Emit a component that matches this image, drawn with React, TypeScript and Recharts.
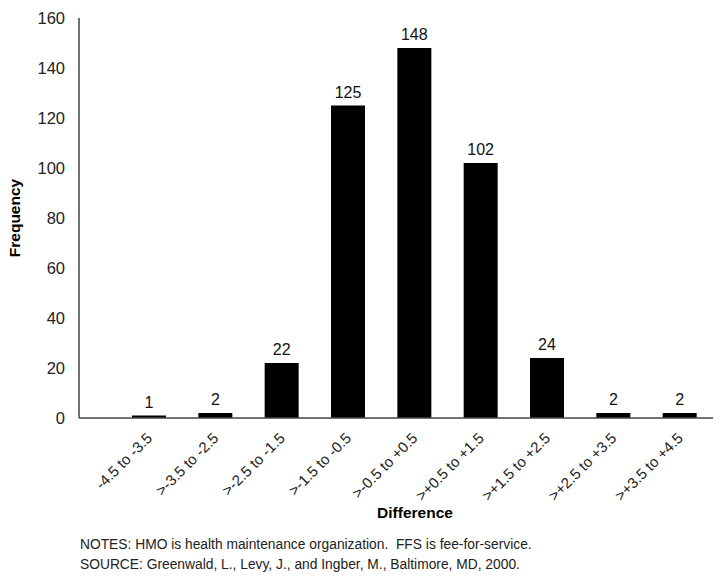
import { Bar, BarChart, LabelList, XAxis, YAxis } from "recharts";

const categories = [
  "-4.5 to -3.5",
  ">-3.5 to -2.5",
  ">-2.5 to -1.5",
  ">-1.5 to -0.5",
  ">-0.5 to +0.5",
  ">+0.5 to +1.5",
  ">+1.5 to +2.5",
  ">+2.5 to +3.5",
  ">+3.5 to +4.5",
];
const frequency = [1, 2, 22, 125, 148, 102, 24, 2, 2];
const yTicks = [0, 20, 40, 60, 80, 100, 120, 140, 160];

const data = categories.map((c, i) => ({ name: c, value: frequency[i] }));

const FONT = '"Liberation Sans", Arial, Helvetica, sans-serif';

function XTick(props: any) {
  const { x, y, payload } = props;
  return (
    <g transform={`translate(${x + 4},${y + 21}) rotate(-45)`}>
      <text textAnchor="end" fontSize={15} fill="#222" fontFamily={FONT}>
        {payload.value}
      </text>
    </g>
  );
}

export default function App() {
  return (
    <div
      style={{
        position: "absolute",
        top: 0,
        left: 0,
        width: 728,
        height: 580,
        background: "#fff",
        fontFamily: FONT,
      }}
    >
      <BarChart
        width={728}
        height={530}
        data={data}
        margin={{ top: 18, right: 15, left: 5, bottom: 0 }}
        barSize={34}
      >
        <XAxis
          dataKey="name"
          interval={0}
          tickLine={false}
          tickSize={0}
          tickMargin={0}
          height={112}
          padding={{ left: 37, right: 0 }}
          axisLine={{ stroke: "#444", strokeWidth: 1.5 }}
          tick={<XTick />}
          label={{
            value: "Difference",
            position: "insideBottom",
            offset: 12,
            dx: 19,
            fontSize: 15.5,
            fontWeight: 700,
            fill: "#000",
            fontFamily: FONT,
          }}
        />
        <YAxis
          domain={[0, 160]}
          ticks={yTicks}
          width={74}
          tickLine={false}
          tickMargin={8}
          axisLine={{ stroke: "#444", strokeWidth: 1.5 }}
          tick={{ fontSize: 16.5, fill: "#222", fontFamily: FONT }}
          label={{
            value: "Frequency",
            angle: -90,
            position: "insideLeft",
            offset: 9,
            fontSize: 15.5,
            fontWeight: 700,
            fill: "#000",
            fontFamily: FONT,
            style: { textAnchor: "middle" },
          }}
        />
        <Bar dataKey="value" fill="#000" isAnimationActive={false}>
          <LabelList
            dataKey="value"
            position="top"
            offset={8}
            fontSize={16}
            fill="#111"
            fontFamily={FONT}
          />
        </Bar>
      </BarChart>
      <div
        style={{
          position: "absolute",
          left: 80,
          top: 535,
          fontSize: 13.8,
          lineHeight: "20px",
          color: "#222",
          whiteSpace: "pre",
        }}
      >
        <div>NOTES: HMO is health maintenance organization.  FFS is fee-for-service.</div>
        <div>SOURCE: Greenwald, L., Levy, J., and Ingber, M., Baltimore, MD, 2000.</div>
      </div>
    </div>
  );
}
